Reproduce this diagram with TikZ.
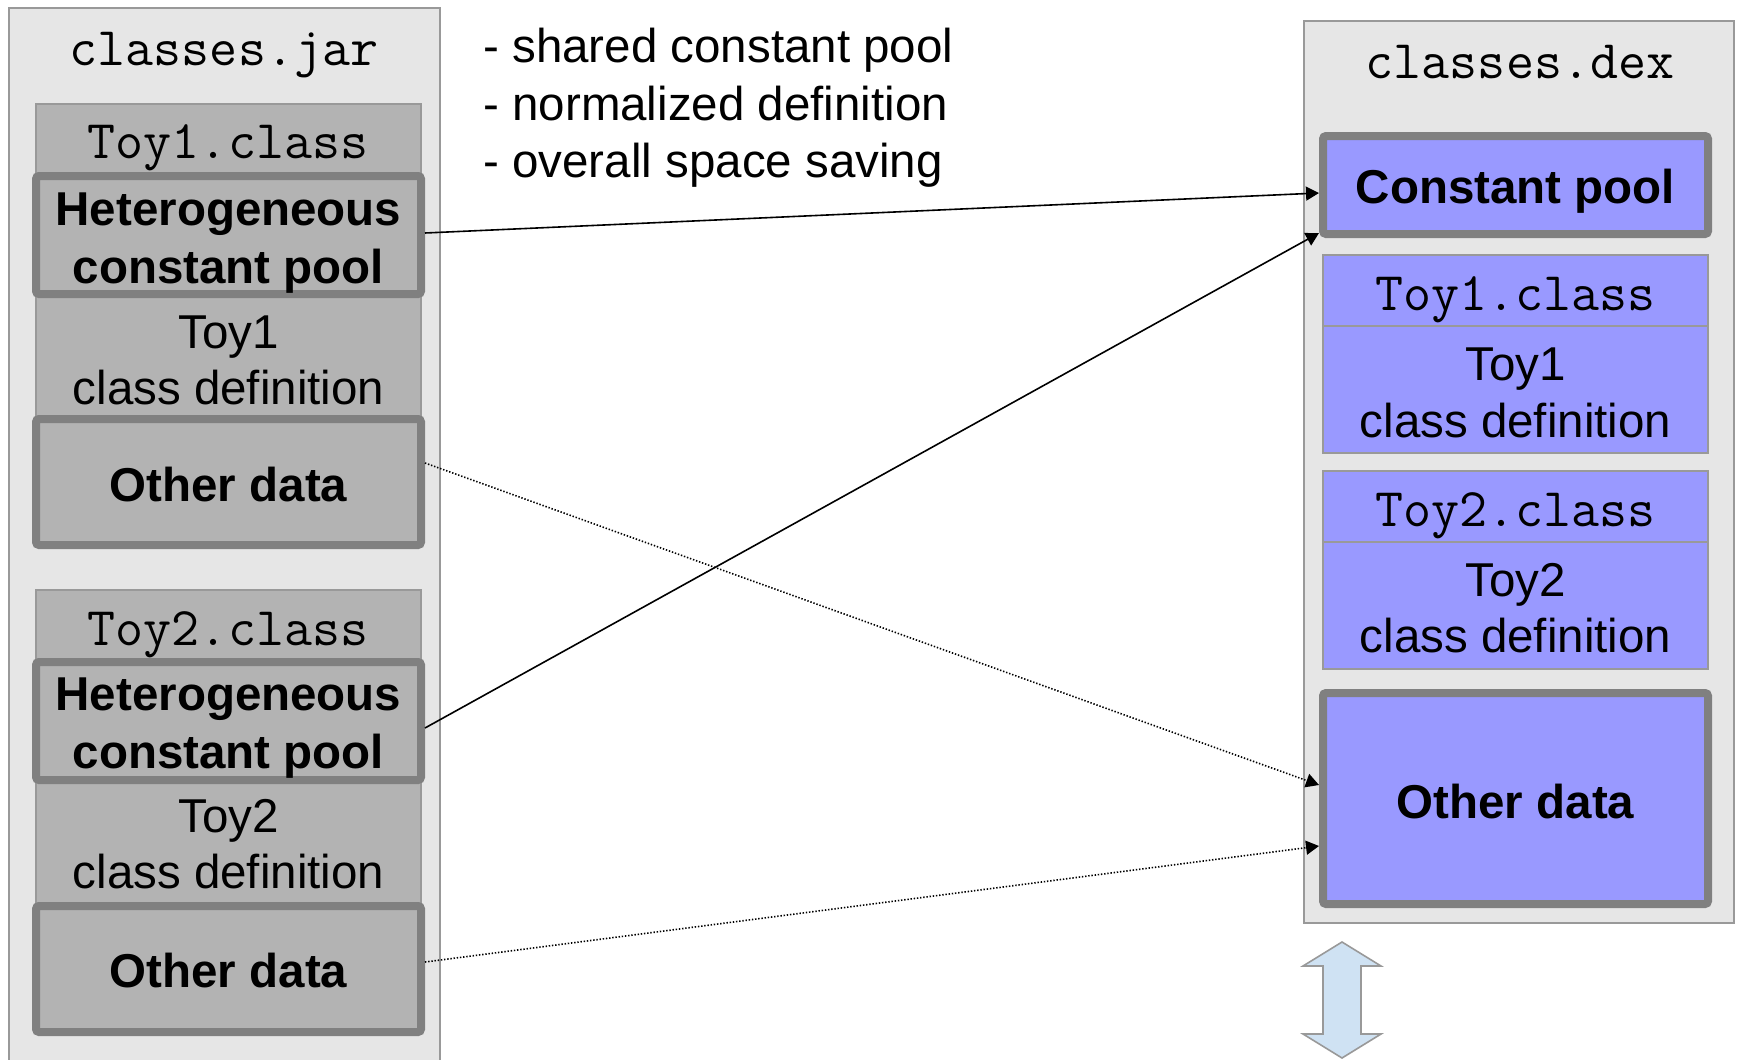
\documentclass[tikz,border=0pt]{standalone}
\usepackage{fontspec}
\setmainfont{Liberation Sans}
\usetikzlibrary{arrows.meta}
\definecolor{bglight}{HTML}{E6E6E6}
\definecolor{boxgray}{HTML}{B3B3B3}
\definecolor{thinborder}{HTML}{999999}
\definecolor{thickborder}{HTML}{808080}
\definecolor{dexblue}{HTML}{9999FF}
\definecolor{arrowblue}{HTML}{CFE2F3}
\begin{document}
\begin{tikzpicture}[x=0.5pt,y=-0.5pt,
  container/.style={draw=thinborder, fill=bglight, line width=1pt, inner sep=0pt, outer sep=0pt},
  thinbox/.style={draw=thinborder, line width=1pt, inner sep=0pt},
  thickbox/.style={draw=thickborder, line width=4pt, rounded corners=1.5pt, inner sep=0pt},
  grayfill/.style={fill=boxgray},
  bluefill/.style={fill=dexblue},
  sans/.style={font=\fontsize{23.75}{28}\selectfont, anchor=base, inner sep=0pt},
  bsans/.style={font=\bfseries\fontsize{23.75}{28}\selectfont, anchor=base, inner sep=0pt},
  mono/.style={font=\ttfamily\fontsize{27.2}{30}\selectfont, anchor=base, inner sep=0pt},
  conn/.style={draw=black, line width=0.8pt, -{Triangle[length=6.5pt,width=7pt]}},
  dotconn/.style={conn, dash pattern=on 0.7pt off 0.9pt},
  dblarrow/.style={draw=thinborder, fill=arrowblue, line width=0.8pt}
]
\useasboundingbox (0,0) rectangle (1740,1060);
\fill[white] (0,0) rectangle (1740,1060);

% ---------- classes.jar ----------
\node[container, minimum width=215.5pt, minimum height=536pt] (jar) at (224.5,544) {};
\node[mono] (jarlabel) at (224,65) {classes.jar};

\node[thinbox, grayfill, minimum width=192.5pt, minimum height=220.5pt] (toy1) at (228.5,324.5) {};
\node[mono] (toy1label) at (228,158) {Toy1.class};
\node[thickbox, grayfill, minimum width=192.5pt, minimum height=59pt] (het1) at (228.5,235) {};
\node[bsans] (het1a) at (228.5,225) {Heterogeneous};
\node[bsans] (het1b) at (228.5,283) {constant pool};
\node[sans] (def1a) at (228.5,348) {Toy1};
\node[sans] (def1b) at (228.5,404) {class definition};
\node[thickbox, grayfill, minimum width=192.5pt, minimum height=63pt] (od1) at (228.5,482) {};
\node[bsans] (od1t) at (228.5,501) {Other data};

\node[thinbox, grayfill, minimum width=192.5pt, minimum height=221pt] (toy2) at (228.5,811) {};
\node[mono] (toy2label) at (228,645) {Toy2.class};
\node[thickbox, grayfill, minimum width=192.5pt, minimum height=59pt] (het2) at (228.5,721) {};
\node[bsans] (het2a) at (228.5,710) {Heterogeneous};
\node[bsans] (het2b) at (228.5,768) {constant pool};
\node[sans] (def2a) at (228.5,832) {Toy2};
\node[sans] (def2b) at (228.5,888) {class definition};
\node[thickbox, grayfill, minimum width=192.5pt, minimum height=63pt] (od2) at (228.5,969) {};
\node[bsans] (od2t) at (228.5,987) {Other data};

% ---------- bullets ----------
\node[sans, anchor=base west] (b1) at (483,62) {- shared constant pool};
\node[sans, anchor=base west] (b2) at (483,120) {- normalized definition};
\node[sans, anchor=base west] (b3) at (483,177) {- overall space saving};

% ---------- classes.dex ----------
\node[container, minimum width=214.75pt, minimum height=451pt] (dex) at (1519,471.5) {};
\node[mono] (dexlabel) at (1520,78) {classes.dex};

\node[thickbox, bluefill, minimum width=192.5pt, minimum height=49pt] (cp) at (1515.5,185) {};
\node[bsans] (cpt) at (1515.5,203) {Constant pool};

\node[thinbox, bluefill, minimum width=192.5pt, minimum height=99pt] (t1d) at (1515.5,354) {};
\draw[draw=thinborder, line width=1pt] ([yshift=-36pt]t1d.north west) -- ([yshift=-36pt]t1d.north east);
\node[mono] (t1dl) at (1515.5,310) {Toy1.class};
\node[sans] (t1da) at (1515.5,380) {Toy1};
\node[sans] (t1db) at (1515.5,437) {class definition};

\node[thinbox, bluefill, minimum width=192.5pt, minimum height=99pt] (t2d) at (1515.5,570) {};
\draw[draw=thinborder, line width=1pt] ([yshift=-36pt]t2d.north west) -- ([yshift=-36pt]t2d.north east);
\node[mono] (t2dl) at (1515.5,526) {Toy2.class};
\node[sans] (t2da) at (1515.5,596) {Toy2};
\node[sans] (t2db) at (1515.5,652) {class definition};

\node[thickbox, bluefill, minimum width=192.5pt, minimum height=105.5pt] (odx) at (1515.5,798.5) {};
\node[bsans] (odxt) at (1515.5,818) {Other data};

% ---------- connectors ----------
\draw[conn] ([yshift=1pt]het1.east) -- ([yshift=-4pt]cp.west);
\draw[conn] ([yshift=-3.5pt]het2.east) -- ([yshift=-24pt]cp.west);
\draw[dotconn] ([yshift=9.5pt]od1.east) -- ([yshift=6.75pt]odx.west);
\draw[dotconn] ([yshift=3.5pt]od2.east) -- ([yshift=-23.75pt]odx.west);

% ---------- double arrow ----------
\draw[dblarrow] (1342,942) -- (1381,966) -- (1361,966) -- (1361,1034) -- (1381,1034)
  -- (1342,1058) -- (1303,1034) -- (1323,1034) -- (1323,966) -- (1303,966) -- cycle;
\end{tikzpicture}
\end{document}
